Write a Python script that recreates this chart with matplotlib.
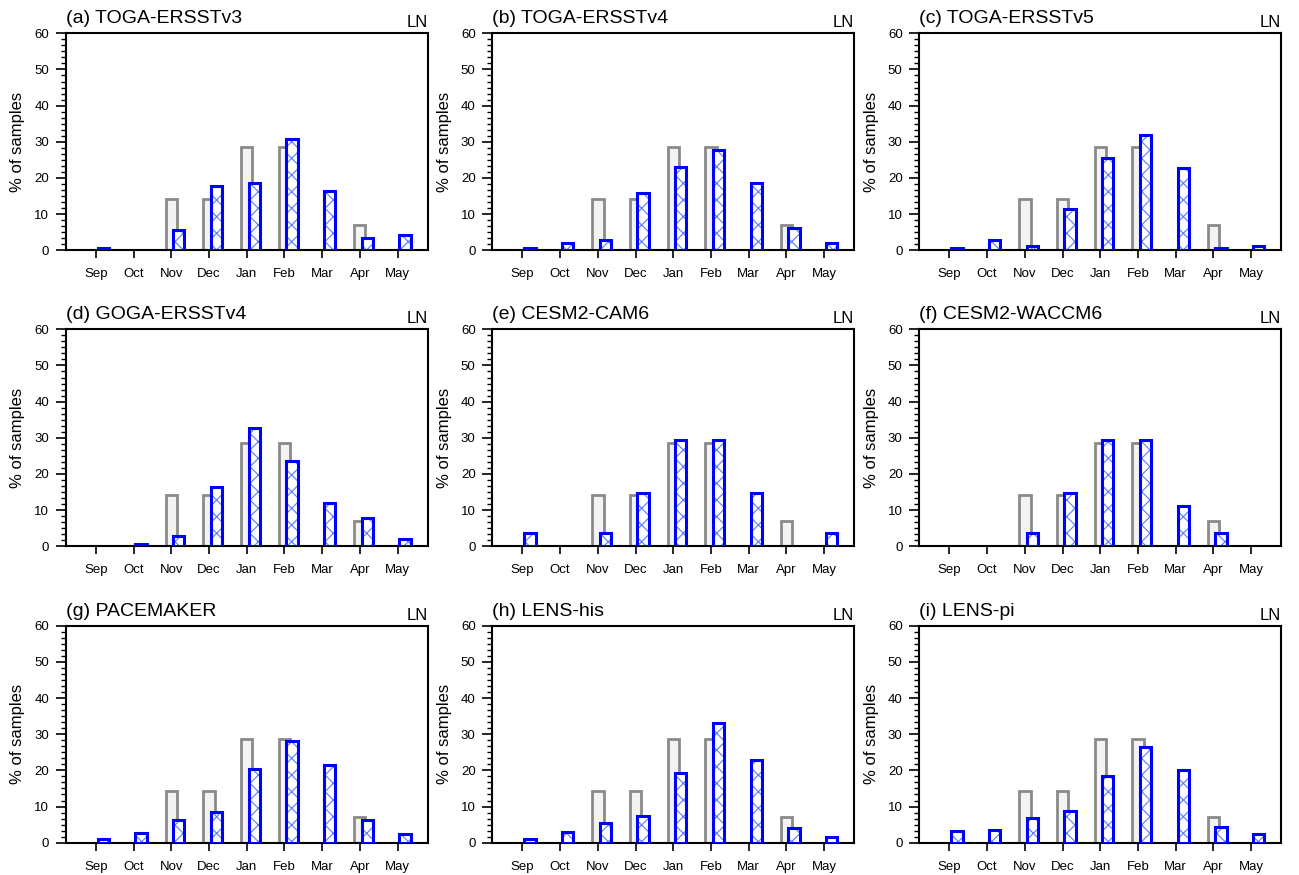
import numpy as np
import matplotlib.pyplot as plt
from matplotlib.ticker import MultipleLocator

plt.rcParams['font.family'] = ['Liberation Sans', 'DejaVu Sans']
plt.rcParams['hatch.linewidth'] = 0.8

months = ["Sep", "Oct", "Nov", "Dec", "Jan", "Feb", "Mar", "Apr", "May"]

# observed La Nina (grey bars), same in every panel
obs = [0, 0, 14.3, 14.3, 28.6, 28.6, 0, 7.1, 0]

# model / experiment (blue hatched bars)
toga_v3 = [0.7, 0, 5.6, 17.8, 18.5, 30.7, 16.3, 3.4, 4.1]
toga_v4 = [0.55, 1.9, 2.9, 15.8, 22.9, 27.8, 18.5, 6.3, 1.9]
toga_v5 = [0.5, 2.8, 1.2, 11.3, 25.6, 32.0, 22.8, 0.5, 1.2]
goga_v4 = [0, 0.6, 2.8, 16.4, 32.8, 23.5, 12.1, 7.8, 2.0]
cesm_cam6 = [3.6, 0, 3.6, 14.7, 29.5, 29.5, 14.7, 0, 3.6]
cesm_waccm6 = [0, 0, 3.6, 14.7, 29.5, 29.5, 11.1, 3.6, 0]
pacemaker = [1.0, 2.8, 6.4, 8.6, 20.3, 28.2, 21.5, 6.4, 2.4]
lens_his = [0.9, 2.9, 5.5, 7.3, 19.4, 33.0, 23.0, 4.0, 1.6]
lens_pi = [3.2, 3.6, 6.8, 8.9, 18.4, 26.4, 20.1, 4.4, 2.3]

titles = ["(a) TOGA-ERSSTv3", "(b) TOGA-ERSSTv4", "(c) TOGA-ERSSTv5",
          "(d) GOGA-ERSSTv4", "(e) CESM2-CAM6", "(f) CESM2-WACCM6",
          "(g) PACEMAKER", "(h) LENS-his", "(i) LENS-pi"]
series = [toga_v3, toga_v4, toga_v5, goga_v4, cesm_cam6, cesm_waccm6,
          pacemaker, lens_his, lens_pi]

W, H = 1299, 875
fig = plt.figure(figsize=(W / 100, H / 100), dpi=100)

lefts = [65.7, 492.3, 919.3]
tops = [33.3, 329.3, 625.7]
aw, ah = 362, 217

x = np.arange(len(months))
obs = np.array(obs)

for k, (title, vals) in enumerate(zip(titles, series)):
    r, c = divmod(k, 3)
    ax = fig.add_axes([lefts[c] / W, 1 - (tops[r] + ah) / H, aw / W, ah / H])
    vals = np.array(vals)

    m = obs > 0
    ax.bar(x[m], obs[m], width=0.3, color="#f3f3f3", edgecolor="#8a8a8a",
           linewidth=2.0, zorder=2)

    m = vals > 0
    # hatch layer in light blue, then the blue outline on top
    ax.bar(x[m] + 0.2, vals[m], width=0.3, color="white", edgecolor="#5a7cff",
           linewidth=0, hatch="xx", zorder=3)
    ax.bar(x[m] + 0.2, vals[m], width=0.3, fill=False, edgecolor="#0000ff",
           linewidth=2.2, zorder=4)

    ax.set_xlim(-0.8, 8.8)
    ax.set_ylim(0, 60)
    ax.set_xticks(x)
    ax.set_xticklabels(months)
    ax.set_yticks(np.arange(0, 61, 10))
    ax.yaxis.set_minor_locator(MultipleLocator(10 / 6))

    ax.tick_params(axis="both", direction="out", top=False, right=False)
    ax.tick_params(axis="y", which="major", length=7, width=1.2,
                   labelsize=9.5, pad=5)
    ax.tick_params(axis="y", which="minor", length=3.5, width=1.0)
    ax.tick_params(axis="x", which="major", length=6, width=1.2,
                   labelsize=9.5, pad=7)
    for s in ax.spines.values():
        s.set_linewidth(1.5)

    ax.set_ylabel("% of samples", fontsize=12)
    ax.yaxis.set_label_coords(-0.112, 0.5)

    ax.text(0, 1 + 10 / ah, title, transform=ax.transAxes, ha="left",
            va="baseline", fontsize=14)
    ax.text(1, 1 + 6 / ah, "LN", transform=ax.transAxes, ha="right",
            va="baseline", fontsize=12)

fig.savefig("out.png", dpi=100, facecolor="white")
